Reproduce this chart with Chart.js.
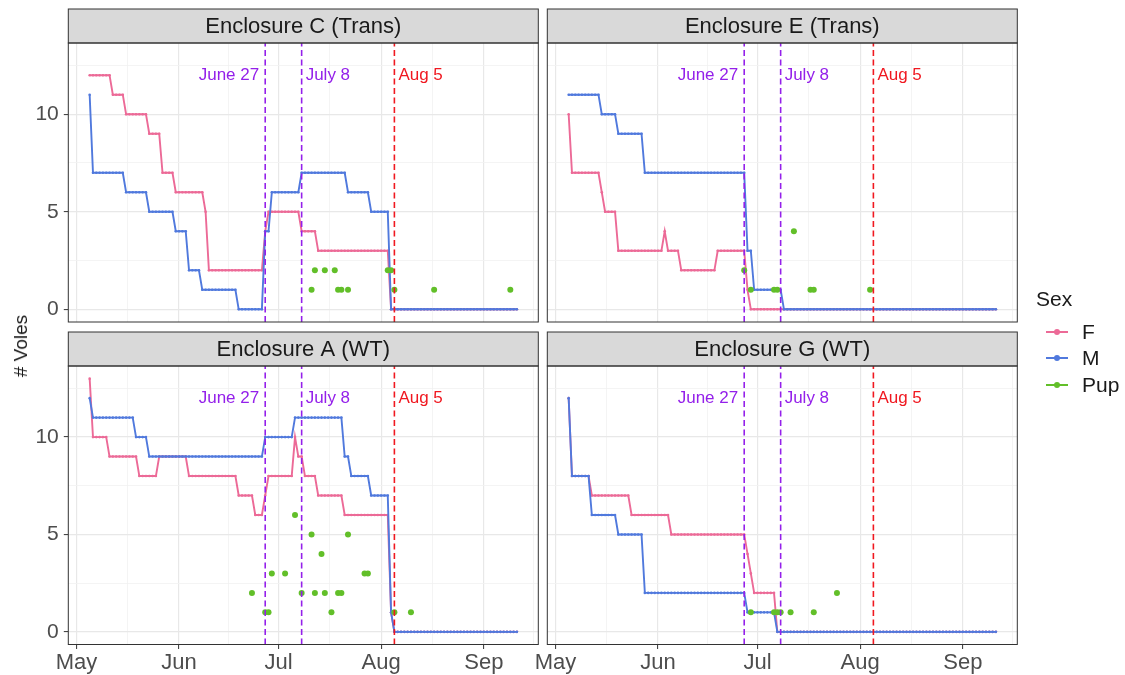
<!DOCTYPE html>
<html>
<head>
<meta charset="utf-8">
<script src="https://cdn.jsdelivr.net/npm/chart.js@4.4.1/dist/chart.umd.min.js"></script>
<style>
  body { margin: 0; background: #fff; width: 1125px; height: 675px; overflow: hidden; position: relative;
         font-family: "Liberation Sans", Arial, sans-serif; }
  canvas { position: absolute; left: 0; top: 0; }
  #ytitle { position: absolute; left: 21px; top: 346px; transform: translate(-50%, -50%) rotate(-90deg);
            font-size: 19px; font-weight: normal; color: #1A1A1A; white-space: nowrap; }
  .ltitle { position: absolute; left: 1036px; top: 287px; font-size: 21px; color: #1A1A1A; }
  .item { position: absolute; left: 1046px; height: 24px; font-size: 21px; color: #1A1A1A; line-height: 24px; }
  .item .key { position: absolute; left: 0; top: 11px; width: 22px; height: 2px; }
  .item .dot { position: absolute; left: 8px; top: 9px; width: 6px; height: 6px; border-radius: 50%; }
  .item span.lab { position: absolute; left: 36px; top: 0; }
</style>
</head>
<body>
<canvas id="pC" width="1125" height="675"></canvas>
<canvas id="pE" width="1125" height="675"></canvas>
<canvas id="pA" width="1125" height="675"></canvas>
<canvas id="pG" width="1125" height="675"></canvas>
<div id="ytitle"># Voles</div>
<div class="ltitle">Sex</div>
<div class="item" style="top:320px"><div class="key" style="background:#EC6A97"></div><div class="dot" style="background:#EC6A97"></div><span class="lab">F</span></div>
<div class="item" style="top:346px"><div class="key" style="background:#5079DD"></div><div class="dot" style="background:#5079DD"></div><span class="lab">M</span></div>
<div class="item" style="top:373px"><div class="key" style="background:#62BF29"></div><div class="dot" style="background:#62BF29"></div><span class="lab">Pup</span></div>
<script>
// x values are days counted from May 1 (0 = May 1, 31 = Jun 1, 61 = Jul 1, 92 = Aug 1, 123 = Sep 1)
const lastDay = 133; // Sep 11

const monthTicks = [0, 31, 61, 92, 123];
const monthLabels = ['May', 'Jun', 'Jul', 'Aug', 'Sep'];
const monthMinorTicks = [15.5, 46, 76.5, 107.5, 138];
const countTicks = [0, 5, 10];
const countMinorTicks = [2.5, 7.5, 12.5];

// dashed reference dates
const markerDays = [57, 68, 96];
const markerLabels = ['June 27', 'July 8', 'Aug 5'];
const markerLabelY = 12;

// step series, each entry = [first day of the run, number of voles]; a run lasts until the next entry
const cFemale = [[4,12],[11,11],[15,10],[22,9],[26,7],[30,6],[39,5],[40,2],[57,4],[58,5],[68,4],[73,3],[95,0]];
const cMale   = [[4,11],[5,7],[15,6],[22,5],[30,4],[34,2],[38,1],[49,0],[57,4],[59,6],[68,7],[82,6],[89,5],[95,0]];
const cPups   = [[71,1],[72,2],[75,2],[78,2],[79,1],[80,1],[82,1],[94,2],[95,2],[96,1],[108,1],[131,1]];

const eFemale = [[4,10],[5,7],[14,6],[15,5],[19,3],[33,4],[34,3],[38,2],[49,3],[58,1],[59,0]];
const eMale   = [[4,11],[14,10],[19,9],[27,7],[58,3],[60,1],[69,0]];
const ePups   = [[57,2],[59,1],[66,1],[67,1],[72,4],[77,1],[78,1],[95,1]];

const aFemale = [[4,13],[5,10],[10,9],[19,8],[25,9],[34,8],[49,7],[54,6],[57,7],[58,8],[66,10],[67,9],[69,8],[73,7],[81,6],[95,1],[96,0]];
const aMale   = [[4,12],[5,11],[18,10],[22,9],[57,10],[66,11],[81,9],[83,8],[89,7],[95,1],[96,0]];
const aPups   = [[53,2],[57,1],[58,1],[59,3],[63,3],[66,6],[68,2],[71,5],[72,2],[74,4],[75,2],[77,1],[79,2],[80,2],[82,5],[87,3],[88,3],[96,1],[101,1]];

const gFemale = [[4,12],[5,8],[11,7],[23,6],[35,5],[58,4],[59,3],[60,2],[67,0]];
const gMale   = [[4,12],[5,8],[11,6],[19,5],[27,2],[58,1],[67,0]];
const gPups   = [[59,1],[66,1],[67,1],[68,1],[71,1],[78,1],[85,2]];

const pink = '#EC6A97', blue = '#5079DD', green = '#62BF29';
const markerColors = ['#9420EA', '#9420EA', '#F01820'];
const FONT = '"Liberation Sans", Arial, sans-serif';

// turn the runs into one point per day
function expandRuns(runs) {
  const pts = [];
  for (let i = 0; i < runs.length; i++) {
    const end = i + 1 < runs.length ? runs[i + 1][0] : lastDay + 1;
    for (let d = runs[i][0]; d < end; d++) pts.push({ x: d, y: runs[i][1] });
  }
  return pts;
}

// strip, border and the dashed date lines
const panelDecor = {
  id: 'panelDecor',
  afterDatasetsDraw(chart) {
    const { ctx, chartArea: a } = chart;
    const x = chart.scales.x, y = chart.scales.y;
    ctx.save();
    ctx.beginPath(); ctx.rect(a.left, a.top, a.width, a.height); ctx.clip();
    markerDays.forEach((d, i) => {
      const px = x.getPixelForValue(d);
      ctx.strokeStyle = markerColors[i];
      ctx.lineWidth = 1.6;
      ctx.setLineDash([6, 3.5]);
      ctx.beginPath(); ctx.moveTo(px, a.bottom); ctx.lineTo(px, a.top); ctx.stroke();
      ctx.setLineDash([]);
      ctx.fillStyle = markerColors[i];
      ctx.font = '17px ' + FONT;
      ctx.textBaseline = 'middle';
      ctx.textAlign = i === 0 ? 'right' : 'left';
      ctx.fillText(markerLabels[i], px + (i === 0 ? -6 : 4), y.getPixelForValue(markerLabelY));
    });
    ctx.restore();
  },
  afterDraw(chart) {
    const { ctx, chartArea: a } = chart;
    const title = chart.options.plugins.panelDecor.title;
    ctx.save();
    ctx.fillStyle = '#D9D9D9';
    ctx.fillRect(a.left, a.top - 34, a.width, 34);
    ctx.strokeStyle = '#333333';
    ctx.lineWidth = 1;
    ctx.strokeRect(a.left, a.top - 34, a.width, 34);
    ctx.strokeRect(a.left, a.top, a.width, a.height);
    ctx.fillStyle = '#1A1A1A';
    ctx.font = '22px ' + FONT;
    ctx.textAlign = 'center';
    ctx.textBaseline = 'middle';
    ctx.fillText(title, (a.left + a.right) / 2, a.top - 16.5);
    ctx.restore();
  }
};

const panels = [
  { id: 'pC', title: 'Enclosure C (Trans)', f: cFemale, m: cMale, pup: cPups, l: 68.3, r: 538.3, t: 43, b: 322, showY: true, showX: false },
  { id: 'pE', title: 'Enclosure E (Trans)', f: eFemale, m: eMale, pup: ePups, l: 547.3, r: 1017.3, t: 43, b: 322, showY: false, showX: false },
  { id: 'pA', title: 'Enclosure A (WT)', f: aFemale, m: aMale, pup: aPups, l: 68.3, r: 538.3, t: 366, b: 644.5, showY: true, showX: true },
  { id: 'pG', title: 'Enclosure G (WT)', f: gFemale, m: gMale, pup: gPups, l: 547.3, r: 1017.3, t: 366, b: 644.5, showY: false, showX: true }
];

panels.forEach(p => {
  const yw = p.showY ? 40 : 0;
  const xh = p.showX ? 30 : 0;
  const xAll = monthTicks.concat(monthMinorTicks).sort((u, v) => u - v);
  const yAll = countTicks.concat(countMinorTicks).sort((u, v) => u - v);
  new Chart(document.getElementById(p.id), {
    type: 'line',
    data: {
      datasets: [
        { label: 'F', data: expandRuns(p.f), borderColor: pink, backgroundColor: pink, borderWidth: 1.9,
          pointRadius: 1.3, pointBorderWidth: 0, tension: 0, order: 3 },
        { label: 'M', data: expandRuns(p.m), borderColor: blue, backgroundColor: blue, borderWidth: 1.9,
          pointRadius: 1.3, pointBorderWidth: 0, tension: 0, order: 2 },
        { label: 'Pup', data: p.pup.map(([x, y]) => ({ x, y })), showLine: false, backgroundColor: green,
          borderColor: green, pointRadius: 3, pointBorderWidth: 0, order: 1 }
      ]
    },
    options: {
      responsive: false,
      animation: false,
      events: [],
      layout: { padding: { left: p.l - yw, top: p.t, right: 1125 - p.r, bottom: 675 - p.b - xh } },
      plugins: { legend: { display: false }, tooltip: { enabled: false }, panelDecor: { title: p.title } },
      scales: {
        x: {
          type: 'linear', min: -2.45, max: 139.45,
          afterBuildTicks: s => { s.ticks = xAll.map(v => ({ value: v })); },
          afterFit: s => { s.height = xh; },
          border: { display: false },
          grid: {
            drawTicks: p.showX, tickLength: 4.5,
            color: c => monthTicks.includes(c.tick.value) ? '#E8E8E8' : '#F1F1F1',
            lineWidth: c => monthTicks.includes(c.tick.value) ? 1.2 : 0.8,
            tickColor: c => monthTicks.includes(c.tick.value) ? '#333333' : 'rgba(0,0,0,0)',
            tickWidth: 1
          },
          ticks: {
            display: p.showX, autoSkip: false, maxRotation: 0, padding: 1,
            color: '#4D4D4D', font: { family: FONT, size: 22 },
            callback: v => { const i = monthTicks.indexOf(v); return i >= 0 ? monthLabels[i] : ''; }
          }
        },
        y: {
          type: 'linear', min: -0.65, max: 13.65,
          afterBuildTicks: s => { s.ticks = yAll.map(v => ({ value: v })); },
          afterFit: s => { s.width = yw; },
          border: { display: false },
          grid: {
            drawTicks: p.showY, tickLength: 4.5,
            color: c => countTicks.includes(c.tick.value) ? '#E8E8E8' : '#F1F1F1',
            lineWidth: c => countTicks.includes(c.tick.value) ? 1.2 : 0.8,
            tickColor: c => countTicks.includes(c.tick.value) ? '#333333' : 'rgba(0,0,0,0)',
            tickWidth: 1
          },
          ticks: {
            display: p.showY, autoSkip: false, padding: 5,
            color: '#4D4D4D', font: { family: FONT, size: 21 },
            callback: v => countTicks.includes(v) ? String(v) : ''
          }
        }
      }
    },
    plugins: [panelDecor]
  });
});
</script>
</body>
</html>
